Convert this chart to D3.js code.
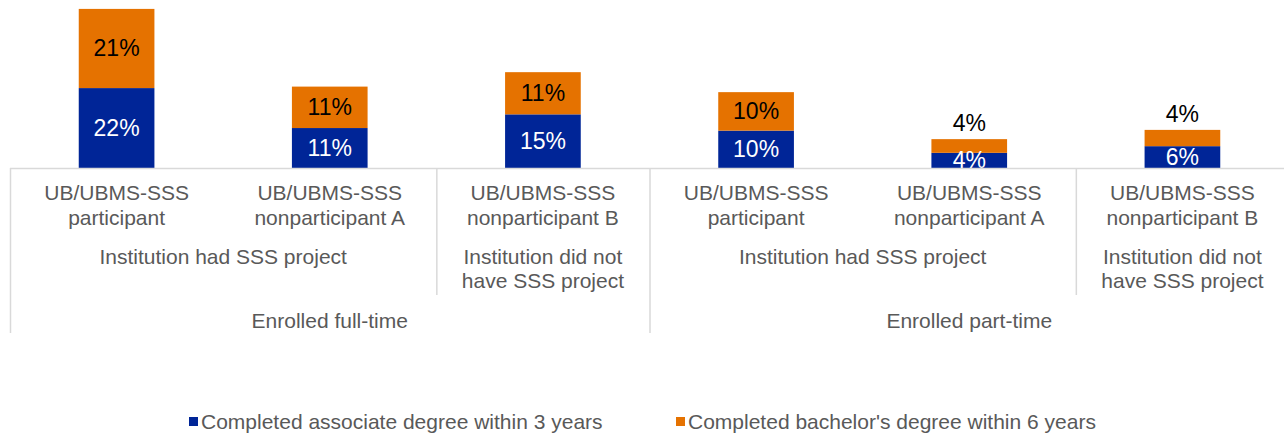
<!DOCTYPE html>
<html>
<head>
<meta charset="utf-8">
<script src="https://cdn.jsdelivr.net/npm/d3@7"></script>
<style>
  body { margin: 0; background: #fff; overflow: hidden; }
  text { font-family: "Liberation Sans", Arial, sans-serif; }
</style>
</head>
<body>
<svg id="chart" width="1284" height="435"></svg>
<script>
const width = 1284;
const height = 435;

// categories (two label lines each)
const categories = [
    ["UB/UBMS-SSS", "participant"],
    ["UB/UBMS-SSS", "nonparticipant A"],
    ["UB/UBMS-SSS", "nonparticipant B"],
    ["UB/UBMS-SSS", "participant"],
    ["UB/UBMS-SSS", "nonparticipant A"],
    ["UB/UBMS-SSS", "nonparticipant B"]
];
// second level groups: [first index, last index, lines]
const projectGroups = [
    [0, 1, ["Institution had SSS project"]],
    [2, 2, ["Institution did not", "have SSS project"]],
    [3, 4, ["Institution had SSS project"]],
    [5, 5, ["Institution did not", "have SSS project"]]
];
const enrollGroups = [
    [0, 2, "Enrolled full-time"],
    [3, 5, "Enrolled part-time"]
];

const seriesNames = ["Completed associate degree within 3 years", "Completed bachelor's degree within 6 years"];
const associate = [21.6, 10.8, 14.5, 10.1, 4.1, 5.9];
const bachelor = [21.4, 11.2, 11.4, 10.4, 3.7, 4.4];
const colors = ["#002597", "#E57200"];

const left = 10, right = 1289, baseY = 168;

const svg = d3.select("#chart");

const x = d3.scaleBand()
    .domain(d3.range(categories.length))
    .range([left, right])
    .paddingInner(0.645)
    .paddingOuter(0.3225);

const step = x.step();

const y = d3.scaleLinear()
    .domain([0, 45])
    .range([baseY, baseY - 45 * 3.7]);

let stackData = categories.map(function(c, i) {
    return {i: i, a: associate[i], b: bachelor[i]};
});
let stack = d3.stack().keys(["a", "b"])(stackData);

svg.append("clipPath").attr("id", "plotClip")
    .append("rect").attr("x", 0).attr("y", 0).attr("width", width).attr("height", baseY);

let plot = svg.append("g").attr("clip-path", "url(#plotClip)");

let layers = plot.selectAll("g.layer")
    .data(stack)
    .enter().append("g")
    .attr("class", "layer")
    .attr("fill", function(d, k) { return colors[k]; });

layers.selectAll("rect")
    .data(function(d) { return d; })
    .enter().append("rect")
    .attr("x", function(d) { return x(d.data.i); })
    .attr("width", x.bandwidth())
    .attr("y", function(d) { return y(d[1]); })
    .attr("height", function(d) { return y(d[0]) - y(d[1]); });

// data labels
stack.forEach(function(layer, k) {
    layer.forEach(function(d) {
        let h = y(d[0]) - y(d[1]);
        let cx = x(d.data.i) + x.bandwidth() / 2;
        let txt = Math.round(d[1] - d[0]) + "%";
        let above = (k === 1 && h < 20);
        let ty = above ? y(d[1]) - 8 : (y(d[0]) + y(d[1])) / 2 + 8;
        let g = above ? svg : plot;
        g.append("text")
            .attr("x", cx)
            .attr("y", ty)
            .attr("text-anchor", "middle")
            .attr("font-size", "23px")
            .attr("fill", (k === 0) ? "#ffffff" : "#000000")
            .text(txt);
    });
});

// axis lines
const lineColor = "#d9d9d9";
svg.append("line")
    .attr("x1", left).attr("x2", right)
    .attr("y1", baseY + 0.5).attr("y2", baseY + 0.5)
    .attr("stroke", lineColor).attr("stroke-width", 1.5);

function edge(i) { return left + i * step; }

// full-height dividers (enrollment groups)
[0, 3].forEach(function(i) {
    svg.append("line")
        .attr("x1", edge(i) + 0.5).attr("x2", edge(i) + 0.5)
        .attr("y1", baseY).attr("y2", 333)
        .attr("stroke", lineColor).attr("stroke-width", 1.5);
});
// mid-height dividers (project groups)
[2, 5].forEach(function(i) {
    svg.append("line")
        .attr("x1", edge(i) + 0.5).attr("x2", edge(i) + 0.5)
        .attr("y1", baseY).attr("y2", 295)
        .attr("stroke", lineColor).attr("stroke-width", 1.5);
});

const gray = "#595959";

// category labels
categories.forEach(function(c, i) {
    let t = svg.append("text")
        .attr("text-anchor", "middle")
        .attr("font-size", "21px")
        .attr("fill", gray);
    c.forEach(function(line, j) {
        t.append("tspan")
            .attr("x", x(i) + x.bandwidth() / 2)
            .attr("y", 200 + j * 25)
            .text(line);
    });
});

projectGroups.forEach(function(g) {
    let cx = (edge(g[0]) + edge(g[1] + 1)) / 2;
    let t = svg.append("text")
        .attr("text-anchor", "middle")
        .attr("font-size", "21px")
        .attr("fill", gray);
    g[2].forEach(function(line, j) {
        t.append("tspan").attr("x", cx).attr("y", 264 + j * 24).text(line);
    });
});

enrollGroups.forEach(function(g) {
    let cx = (edge(g[0]) + edge(g[1] + 1)) / 2;
    svg.append("text")
        .attr("x", cx).attr("y", 328)
        .attr("text-anchor", "middle")
        .attr("font-size", "21px")
        .attr("fill", gray)
        .text(g[2]);
});

// legend
const legendX = [189, 676];
seriesNames.forEach(function(name, k) {
    svg.append("rect")
        .attr("x", legendX[k]).attr("y", 417)
        .attr("width", 9).attr("height", 9)
        .attr("fill", colors[k]);
    svg.append("text")
        .attr("x", legendX[k] + 12).attr("y", 429)
        .attr("font-size", "21px")
        .attr("fill", gray)
        .text(name);
});
</script>
</body>
</html>
